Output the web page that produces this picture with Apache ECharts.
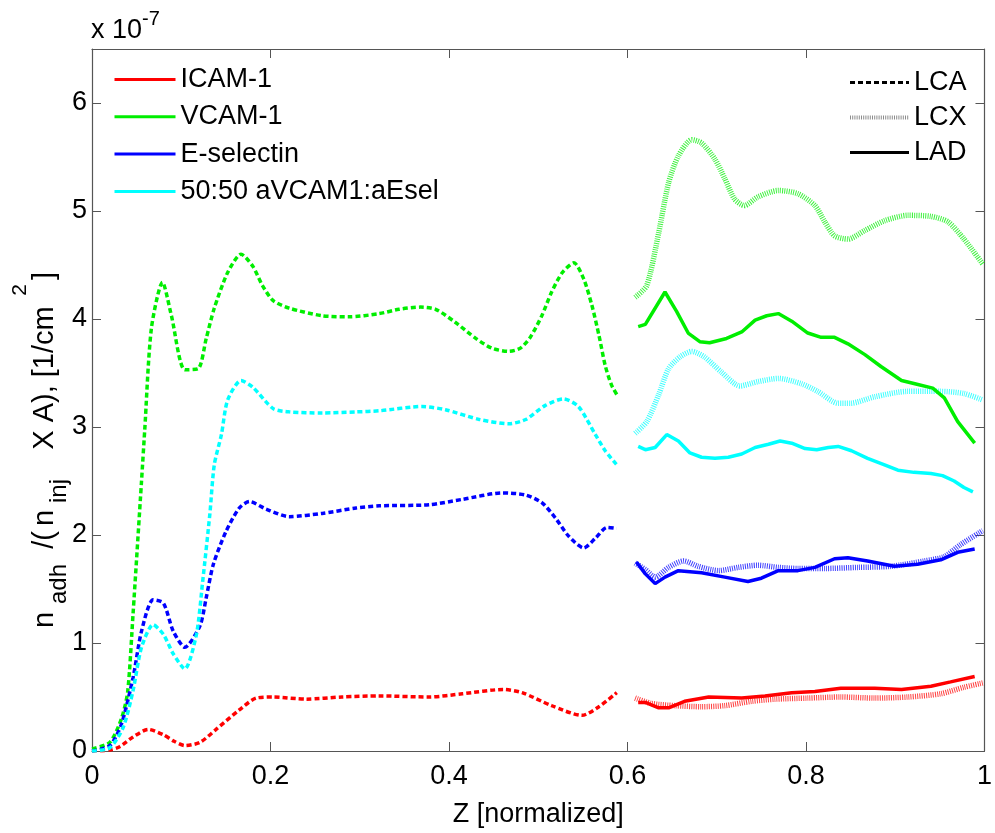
<!DOCTYPE html>
<html>
<head>
<meta charset="utf-8">
<script src="https://cdn.jsdelivr.net/npm/echarts@6/dist/echarts.min.js"></script>
<style>
  html, body { margin: 0; padding: 0; background: #fff; }
  #chart { width: 995px; height: 833px; }
</style>
</head>
<body>
<div id="chart"></div>
<script>
// Adhesion density along the normalized vessel length (values in units of 1e-7 per cm^2)
// Each entry: [Z, n_adh/(n_inj x A)]

// ICAM-1
const icamLCA = [[0,0],[0.02,0.01],[0.031,0.04],[0.046,0.13],[0.063,0.20],[0.08,0.15],[0.092,0.09],[0.104,0.05],[0.121,0.08],[0.139,0.20],[0.165,0.38],[0.184,0.49],[0.203,0.50],[0.24,0.48],[0.28,0.50],[0.322,0.51],[0.378,0.50],[0.415,0.53],[0.461,0.57],[0.482,0.54],[0.515,0.42],[0.549,0.33],[0.568,0.41],[0.588,0.54]];
const icamLCX = [[0.6085,0.49],[0.627,0.44],[0.653,0.42],[0.683,0.41],[0.709,0.42],[0.739,0.46],[0.765,0.48],[0.802,0.49],[0.839,0.50],[0.877,0.49],[0.914,0.50],[0.951,0.53],[0.977,0.59],[0.998,0.63]];
const icamLAD = [[0.612,0.45],[0.62,0.45],[0.635,0.40],[0.646,0.40],[0.664,0.46],[0.691,0.50],[0.728,0.49],[0.754,0.51],[0.784,0.54],[0.81,0.55],[0.839,0.58],[0.877,0.58],[0.907,0.57],[0.94,0.60],[0.962,0.64],[0.989,0.69]];

// VCAM-1
const vcamLCA = [[0,0.02],[0.02,0.08],[0.033,0.3],[0.04,0.55],[0.046,1.27],[0.0555,2.5],[0.059,2.96],[0.0665,3.91],[0.079,4.34],[0.089,4.03],[0.104,3.53],[0.119,3.54],[0.128,3.82],[0.137,4.10],[0.152,4.43],[0.167,4.60],[0.18,4.49],[0.191,4.31],[0.203,4.17],[0.221,4.10],[0.258,4.03],[0.288,4.02],[0.322,4.05],[0.344,4.09],[0.368,4.11],[0.385,4.09],[0.407,3.97],[0.43,3.82],[0.448,3.73],[0.467,3.70],[0.48,3.73],[0.491,3.83],[0.504,4.03],[0.515,4.25],[0.527,4.43],[0.54,4.52],[0.551,4.37],[0.56,4.13],[0.568,3.85],[0.575,3.57],[0.582,3.39],[0.588,3.30]];
const vcamLCX = [[0.6085,4.20],[0.6216,4.31],[0.635,4.80],[0.646,5.26],[0.657,5.51],[0.672,5.66],[0.683,5.63],[0.698,5.48],[0.709,5.30],[0.72,5.11],[0.731,5.05],[0.746,5.13],[0.769,5.19],[0.791,5.16],[0.81,5.05],[0.821,4.90],[0.832,4.77],[0.847,4.74],[0.866,4.82],[0.888,4.91],[0.914,4.96],[0.94,4.95],[0.959,4.90],[0.977,4.74],[0.998,4.51]];
const vcamLAD = [[0.612,3.93],[0.62,3.95],[0.642,4.25],[0.655,4.07],[0.668,3.87],[0.681,3.79],[0.692,3.78],[0.711,3.82],[0.728,3.88],[0.743,3.99],[0.756,4.03],[0.769,4.05],[0.784,3.98],[0.802,3.87],[0.817,3.83],[0.832,3.83],[0.847,3.77],[0.866,3.67],[0.884,3.56],[0.907,3.43],[0.922,3.40],[0.942,3.36],[0.955,3.27],[0.97,3.05],[0.989,2.85]];

// E-selectin
const eselLCA = [[0,0],[0.02,0.05],[0.033,0.25],[0.046,0.68],[0.0555,1.11],[0.0685,1.40],[0.08,1.37],[0.091,1.11],[0.104,0.96],[0.121,1.16],[0.128,1.42],[0.136,1.73],[0.15,2.03],[0.165,2.25],[0.1765,2.31],[0.195,2.24],[0.221,2.17],[0.258,2.20],[0.296,2.25],[0.322,2.27],[0.378,2.28],[0.415,2.33],[0.46,2.39],[0.486,2.37],[0.504,2.30],[0.519,2.16],[0.534,1.99],[0.551,1.88],[0.564,1.97],[0.577,2.07],[0.588,2.06]];
const eselLCX = [[0.6085,1.74],[0.62,1.68],[0.631,1.61],[0.646,1.70],[0.663,1.76],[0.679,1.71],[0.702,1.67],[0.724,1.70],[0.746,1.72],[0.769,1.70],[0.791,1.69],[0.821,1.69],[0.858,1.70],[0.895,1.71],[0.933,1.76],[0.955,1.80],[0.973,1.91],[0.998,2.04]];
const eselLAD = [[0.610,1.75],[0.62,1.64],[0.631,1.55],[0.642,1.61],[0.657,1.67],[0.683,1.65],[0.709,1.61],[0.735,1.57],[0.75,1.60],[0.769,1.67],[0.791,1.67],[0.81,1.70],[0.832,1.78],[0.847,1.79],[0.869,1.76],[0.899,1.71],[0.925,1.73],[0.951,1.77],[0.97,1.84],[0.989,1.87]];

// 50:50 aVCAM1:aEsel
const mixLCA = [[0,0],[0.02,0.03],[0.035,0.22],[0.046,0.56],[0.0555,0.96],[0.0685,1.17],[0.08,1.08],[0.091,0.90],[0.104,0.76],[0.117,1.08],[0.124,1.57],[0.132,2.19],[0.137,2.65],[0.145,2.93],[0.152,3.25],[0.167,3.43],[0.18,3.37],[0.203,3.17],[0.221,3.14],[0.258,3.13],[0.296,3.14],[0.322,3.15],[0.37,3.19],[0.396,3.16],[0.434,3.07],[0.467,3.03],[0.486,3.07],[0.508,3.20],[0.528,3.26],[0.545,3.19],[0.564,2.93],[0.575,2.78],[0.588,2.65]];
const mixLCX = [[0.6085,2.94],[0.6216,3.05],[0.635,3.30],[0.646,3.54],[0.659,3.65],[0.672,3.70],[0.686,3.65],[0.705,3.51],[0.726,3.38],[0.746,3.42],[0.769,3.45],[0.795,3.40],[0.813,3.33],[0.836,3.22],[0.85,3.22],[0.877,3.28],[0.914,3.33],[0.951,3.33],[0.977,3.31],[0.998,3.25]];
const mixLAD = [[0.612,2.82],[0.62,2.79],[0.631,2.81],[0.644,2.93],[0.657,2.87],[0.67,2.76],[0.683,2.72],[0.698,2.71],[0.713,2.72],[0.728,2.75],[0.743,2.81],[0.758,2.84],[0.771,2.87],[0.784,2.85],[0.799,2.80],[0.812,2.79],[0.825,2.81],[0.836,2.82],[0.851,2.78],[0.869,2.71],[0.888,2.65],[0.903,2.60],[0.921,2.58],[0.94,2.57],[0.953,2.55],[0.966,2.50],[0.977,2.44],[0.987,2.40]];

const molecules = ['ICAM-1', 'VCAM-1', 'E-selectin', '50:50 aVCAM1:aEsel'];
const vessels = ['LCA', 'LCX', 'LAD'];
const xTicks = [0, 0.2, 0.4, 0.6, 0.8, 1];
const yTicks = [0, 1, 2, 3, 4, 5, 6];

const FONT = 'Liberation Sans, Arial, Helvetica, sans-serif';
const FS = 27;
const AXIS_COLOR = '#555';
const colors = {'ICAM-1': '#ff0000', 'VCAM-1': '#00ee00', 'E-selectin': '#0000ff', '50:50 aVCAM1:aEsel': '#00ffff'};
const dataByMolecule = {
  'ICAM-1': {LCA: icamLCA, LCX: icamLCX, LAD: icamLAD},
  'VCAM-1': {LCA: vcamLCA, LCX: vcamLCX, LAD: vcamLAD},
  'E-selectin': {LCA: eselLCA, LCX: eselLCX, LAD: eselLAD},
  '50:50 aVCAM1:aEsel': {LCA: mixLCA, LCX: mixLCX, LAD: mixLAD}
};
// line appearance per vessel
const vesselLine = {
  LCA: {type: [5, 3], width: 3.5, opacity: 1, smooth: 0.25},
  LCX: {type: [1, 1.2], width: 5.5, opacity: 0.75, smooth: 0.25},
  LAD: {type: 'solid', width: 3.5, opacity: 1, smooth: false}
};

const series = [];
vessels.forEach(v => {
  molecules.forEach(m => {
    const st = vesselLine[v];
    series.push({
      name: m + ' ' + v,
      type: 'line',
      data: dataByMolecule[m][v],
      symbol: 'none',
      smooth: st.smooth,
      silent: true,
      lineStyle: {color: colors[m], width: st.width, type: st.type, opacity: st.opacity, cap: 'butt'},
      itemStyle: {color: colors[m]},
      z: 2
    });
  });
});
// entries that only feed the two legends
molecules.forEach(m => {
  series.push({name: m, type: 'line', data: [], symbol: 'none',
    lineStyle: {color: colors[m], width: 3}, itemStyle: {color: colors[m]}});
});
vessels.forEach(v => {
  const st = vesselLine[v];
  series.push({name: v, type: 'line', data: [], symbol: 'none',
    lineStyle: {color: '#000', width: v === 'LCX' ? 4 : 3, type: st.type, opacity: v === 'LCX' ? 0.45 : 1},
    itemStyle: {color: '#000'}});
});

const tickStyle = {show: true, inside: true, length: 9, lineStyle: {color: AXIS_COLOR, width: 1}};
const lineAxis = {show: true, onZero: false, lineStyle: {color: AXIS_COLOR, width: 1.2}};
const labelStyle = {color: '#000', fontSize: FS, fontFamily: FONT};
const legendText = {color: '#000', fontSize: FS, fontFamily: FONT, lineHeight: FS};

// y-axis title pieces (TeX-like sub/superscripts), laid out along the rotated baseline
const yTitleParts = [
  {t: 'n', kind: 'main', at: 620},
  {t: 'adh', kind: 'sub', at: 584},
  {t: '/(', kind: 'main', at: 540},
  {t: 'n', kind: 'main', at: 518},
  {t: 'inj', kind: 'sub', at: 491},
  {t: 'X A), [1/cm', kind: 'main', at: 378},
  {t: '2', kind: 'sup', at: 290},
  {t: ']', kind: 'main', at: 276}
];
const partX = {main: 45, sub: 59, sup: 20};
const partSize = {main: 29, sub: 24, sup: 21};

const graphics = [
  {type: 'text', x: 91, y: 31, silent: true,
   style: {text: '{b|x 10}{s|-7}', align: 'left', verticalAlign: 'middle', fill: '#000',
     rich: {
       b: {fontSize: FS, fontFamily: FONT, lineHeight: 44, fill: '#000', verticalAlign: 'middle'},
       s: {fontSize: 20, fontFamily: FONT, lineHeight: 16, fill: '#000', verticalAlign: 'top'}
     }}}
];
yTitleParts.forEach(p => {
  graphics.push({type: 'text', x: partX[p.kind], y: p.at, rotation: Math.PI / 2, silent: true,
    style: {text: p.t, align: 'center', verticalAlign: 'middle', fill: '#000',
      font: partSize[p.kind] + 'px ' + FONT}});
});

const option = {
  animation: false,
  backgroundColor: '#fff',
  grid: {left: 92, top: 49, right: 8, bottom: 79, containLabel: false},
  xAxis: [
    {type: 'value', min: xTicks[0], max: xTicks[xTicks.length - 1], interval: 0.2, position: 'bottom',
     axisLine: lineAxis, axisTick: tickStyle, splitLine: {show: false},
     axisLabel: Object.assign({margin: 12}, labelStyle),
     name: 'Z [normalized]', nameLocation: 'middle', nameGap: 50,
     nameTextStyle: {color: '#000', fontSize: FS, fontFamily: FONT}},
    {type: 'value', min: xTicks[0], max: xTicks[xTicks.length - 1], interval: 0.2, position: 'top',
     axisLine: lineAxis, axisTick: tickStyle, axisLabel: {show: false}, splitLine: {show: false}}
  ],
  yAxis: [
    {type: 'value', min: yTicks[0], max: 6.5, interval: 1, position: 'left',
     axisLine: lineAxis, axisTick: tickStyle, splitLine: {show: false},
     axisLabel: Object.assign({margin: 5, showMaxLabel: false}, labelStyle)},
    {type: 'value', min: yTicks[0], max: 6.5, interval: 1, position: 'right',
     axisLine: lineAxis, axisTick: tickStyle, axisLabel: {show: false}, splitLine: {show: false}}
  ],
  legend: [
    {orient: 'vertical', left: 113, top: 66, padding: 0, itemWidth: 61, itemHeight: 14, itemGap: 10.3,
     selectedMode: false, data: molecules,
     lineStyle: {width: 3}, itemStyle: {opacity: 0, borderWidth: 0},
     textStyle: legendText},
    {orient: 'vertical', left: 848, top: 69, padding: 0, itemWidth: 59, itemHeight: 14, itemGap: 8,
     selectedMode: false, itemStyle: {opacity: 0, borderWidth: 0},
     data: [
       {name: 'LCA', lineStyle: {color: '#000', width: 3, type: [5, 3]}},
       {name: 'LCX', lineStyle: {color: '#000', width: 4, type: [1, 1.2], opacity: 0.45}},
       {name: 'LAD', lineStyle: {color: '#000', width: 3, type: 'solid'}}
     ],
     textStyle: legendText}
  ],
  graphic: graphics,
  series: series
};

const chart = echarts.init(document.getElementById('chart'), null, {renderer: 'canvas'});
chart.setOption(option);
</script>
</body>
</html>
